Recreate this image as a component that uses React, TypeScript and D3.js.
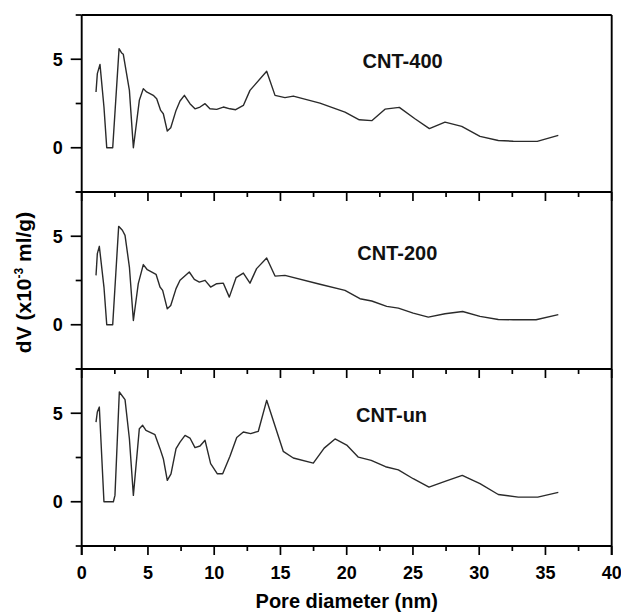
import React from "react";
import * as d3 from "d3";

const W = 621;
const H = 613;

// CNT-400
const x400 = [1.08, 1.18, 1.38, 1.68, 1.89, 2.34, 2.82, 3.02, 3.14, 3.6, 3.9, 4.35, 4.65, 4.9, 5.4, 5.66, 5.96, 6.16, 6.46, 6.72, 7.12, 7.42, 7.75, 8.17, 8.55, 8.93, 9.31, 9.68, 10.19, 10.69, 11.19, 11.62, 12.2, 12.7, 13.96, 14.59, 15.34, 15.97, 17.98, 19.87, 20.95, 21.89, 22.89, 23.97, 25.15, 26.24, 27.42, 28.68, 30.06, 31.44, 32.57, 34.38, 35.97];
const y400 = [3.15, 4.19, 4.71, 2.3, 0, 0, 5.6, 5.35, 5.28, 3.24, 0, 2.68, 3.34, 3.15, 2.96, 2.77, 2.11, 1.92, 0.94, 1.13, 2.11, 2.64, 2.96, 2.49, 2.2, 2.3, 2.49, 2.2, 2.17, 2.3, 2.2, 2.15, 2.39, 3.24, 4.32, 2.96, 2.83, 2.92, 2.52, 2.01, 1.58, 1.53, 2.18, 2.28, 1.64, 1.08, 1.45, 1.21, 0.64, 0.41, 0.37, 0.36, 0.7];

// CNT-200
const x200 = [1.08, 1.18, 1.33, 1.68, 1.89, 2.34, 2.79, 3.07, 3.27, 3.6, 3.9, 4.27, 4.65, 4.95, 5.61, 5.91, 6.11, 6.46, 6.72, 7.12, 7.42, 8.12, 8.5, 8.88, 9.31, 9.73, 10.19, 10.69, 11.14, 11.65, 12.2, 12.7, 13.2, 13.96, 14.59, 15.34, 17.98, 19.87, 21.0, 21.89, 23.02, 23.9, 25.02, 26.16, 27.42, 28.75, 30.06, 31.44, 32.57, 34.29, 35.97];
const y200 = [2.79, 4.02, 4.43, 2.13, 0, 0, 5.56, 5.34, 5.05, 3.26, 0.24, 2.32, 3.4, 3.11, 2.85, 2.13, 1.94, 0.9, 1.09, 2.04, 2.51, 2.98, 2.56, 2.41, 2.51, 2.13, 2.32, 2.35, 1.56, 2.66, 2.92, 2.35, 3.17, 3.77, 2.75, 2.79, 2.29, 1.94, 1.47, 1.34, 1.04, 0.94, 0.66, 0.43, 0.62, 0.75, 0.47, 0.3, 0.28, 0.28, 0.57];

// CNT-un
const xUn = [1.08, 1.18, 1.33, 1.68, 2.39, 2.51, 2.84, 3.27, 3.6, 3.9, 4.35, 4.6, 4.85, 5.53, 5.91, 6.16, 6.46, 6.74, 7.12, 7.42, 7.8, 8.17, 8.55, 8.93, 9.31, 9.73, 10.24, 10.64, 11.19, 11.7, 12.2, 12.75, 13.33, 13.96, 15.21, 15.97, 17.48, 18.3, 19.12, 20.0, 20.88, 21.85, 22.93, 23.9, 25.02, 26.21, 27.47, 28.72, 30.06, 31.44, 32.95, 34.42, 35.97];
const yUn = [4.5, 5.07, 5.35, 0, 0, 0.36, 6.2, 5.77, 3.56, 0.36, 4.13, 4.32, 4.03, 3.79, 3.0, 2.43, 1.21, 1.58, 3.0, 3.37, 3.75, 3.6, 3.06, 3.15, 3.47, 2.15, 1.58, 1.58, 2.57, 3.63, 3.94, 3.85, 3.98, 5.73, 2.85, 2.47, 2.18, 3.03, 3.55, 3.2, 2.52, 2.34, 1.98, 1.8, 1.3, 0.83, 1.17, 1.49, 1.02, 0.41, 0.26, 0.26, 0.53];

const panelLabels = ["CNT-400", "CNT-200", "CNT-un"];
const labelPos = [
  [21.2, 4.49],
  [20.8, 3.64],
  [20.7, 4.49],
];
const seriesX = [x400, x200, xUn];
const seriesY = [y400, y200, yUn];

const xMajor = [0, 5, 10, 15, 20, 25, 30, 35, 40];
const xMinor = [2.5, 7.5, 12.5, 17.5, 22.5, 27.5, 32.5, 37.5];
const yMajor = [0, 5];
const yMinor = [-2.5, 2.5, 7.5];

const FONT = "'Liberation Sans', Arial, Helvetica, sans-serif";

export default function App() {
  const left = 81.7;
  const right = 611.7;
  const top = 15;
  const panelH = 177;
  const x = d3.scaleLinear().domain([0, 40]).range([left, right]);
  const bottomAll = top + panelH * 3;

  return (
    <svg width={W} height={H} style={{ position: "absolute", left: 0, top: 0, background: "#fff" }} fontFamily={FONT}>
      {seriesX.map((xs, i) => {
        const pTop = top + i * panelH;
        const pBot = pTop + panelH;
        const y = d3.scaleLinear().domain([-2.5, 7.5]).range([pBot, pTop]);
        const pts: [number, number][] = xs.map((v, j) => [v, seriesY[i][j]]);
        const line = d3
          .line<[number, number]>()
          .x((d) => x(d[0]))
          .y((d) => y(d[1]));
        return (
          <g key={i}>
            <path d={line(pts) || ""} fill="none" stroke="#2a2a2a" strokeWidth={1.4} strokeLinejoin="round" />
            <line x1={left} x2={right} y1={pBot} y2={pBot} stroke="#000" strokeWidth={1.9} />
            {xMajor.map((t) => (
              <line key={"M" + t} x1={x(t)} x2={x(t)} y1={pBot} y2={pBot + 9} stroke="#000" strokeWidth={1.7} />
            ))}
            {xMinor.map((t) => (
              <line key={"m" + t} x1={x(t)} x2={x(t)} y1={pBot} y2={pBot + 5} stroke="#000" strokeWidth={1.7} />
            ))}
            {yMajor.map((t) => (
              <g key={"yM" + t}>
                <line x1={left - 11} x2={left} y1={y(t)} y2={y(t)} stroke="#000" strokeWidth={1.7} />
                <text x={left - 19} y={y(t)} dy="0.36em" textAnchor="end" fontSize={18} fontWeight="bold">
                  {t}
                </text>
              </g>
            ))}
            {yMinor.map((t) => (
              <line key={"ym" + t} x1={left - 6} x2={left} y1={y(t)} y2={y(t)} stroke="#000" strokeWidth={1.7} />
            ))}
            <text x={x(labelPos[i][0])} y={y(labelPos[i][1])} fontSize={20} fontWeight="bold" fill="#111">
              {panelLabels[i]}
            </text>
          </g>
        );
      })}
      <line x1={left} x2={right} y1={top} y2={top} stroke="#000" strokeWidth={1.9} />
      <line x1={left} x2={left} y1={top} y2={bottomAll + 9} stroke="#000" strokeWidth={1.9} />
      <line x1={right} x2={right} y1={top} y2={bottomAll + 9} stroke="#000" strokeWidth={1.9} />
      {xMajor.map((t) => (
        <text key={"xl" + t} x={x(t)} y={bottomAll + 33} textAnchor="middle" fontSize={18} fontWeight="bold">
          {t}
        </text>
      ))}
      <text x={(left + right) / 2} y={608} textAnchor="middle" fontSize={20} fontWeight="bold">
        Pore diameter (nm)
      </text>
      <text transform={`translate(31, ${top + (panelH * 3) / 2 + 2}) rotate(-90)`} textAnchor="middle" fontSize={21} fontWeight="bold">
        dV (x10
        <tspan dy={-8} fontSize={12}>-3</tspan>
        <tspan dy={8}> ml/g)</tspan>
      </text>
    </svg>
  );
}
